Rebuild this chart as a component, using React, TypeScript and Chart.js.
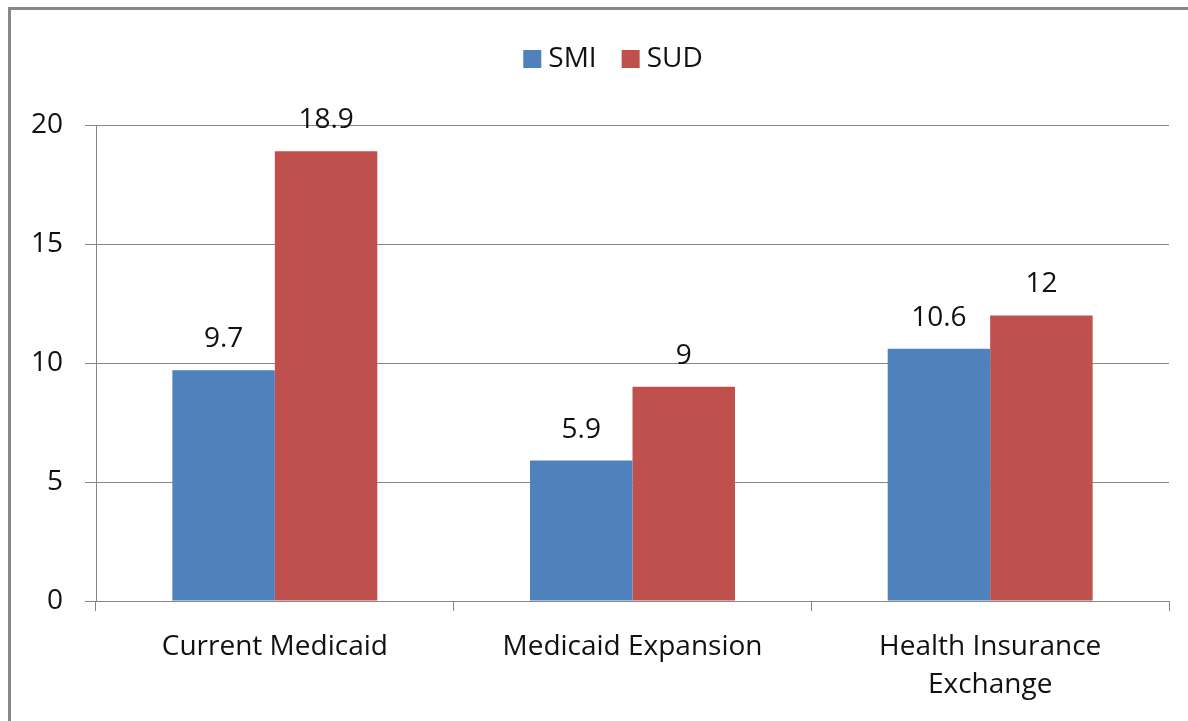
import React, { useEffect, useRef } from "react";
import { Chart, registerables } from "chart.js";

Chart.register(...registerables);

const categories: (string | string[])[] = [
  "Current Medicaid",
  "Medicaid Expansion",
  ["Health Insurance", "Exchange"],
];
const seriesNames = ["SMI", "SUD"];
const smiValues = [9.7, 5.9, 10.6];
const sudValues = [18.9, 9, 12];
const seriesColors = ["#4F81BD", "#C0504D"];
const yTicks = [0, 5, 10, 15, 20];

const FONT = "'Open Sans', Lato, sans-serif";
const FS = 28;

const dataLabelPlugin = {
  id: "dataLabels",
  afterDatasetsDraw(chart: any) {
    const ctx = chart.ctx;
    ctx.save();
    ctx.font = `${FS}px ${FONT}`;
    ctx.fillStyle = "#111";
    ctx.textAlign = "center";
    ctx.textBaseline = "alphabetic";
    chart.data.datasets.forEach((ds: any, di: number) => {
      const meta = chart.getDatasetMeta(di);
      meta.data.forEach((bar: any, i: number) => {
        ctx.fillText(String(ds.data[i]), bar.x, bar.y - 23);
      });
    });
    ctx.restore();
  },
};

const legendPlugin = {
  id: "customLegend",
  afterDraw(chart: any) {
    const ctx = chart.ctx;
    ctx.save();
    ctx.font = `${FS}px ${FONT}`;
    ctx.textBaseline = "alphabetic";
    ctx.textAlign = "left";
    const box = 18;
    const gap = 7;
    const itemGap = 25;
    const items = chart.data.datasets.map((ds: any) => ({
      label: ds.label,
      color: ds.backgroundColor,
      w: box + gap + ctx.measureText(ds.label).width,
    }));
    const total =
      items.reduce((s: number, it: any) => s + it.w, 0) + itemGap * (items.length - 1);
    let x = 613 - total / 2;
    const baseline = 67;
    items.forEach((it: any) => {
      ctx.fillStyle = it.color;
      ctx.fillRect(x, 50, box, box);
      ctx.fillStyle = "#111";
      ctx.fillText(it.label, x + box + gap, baseline);
      x += it.w + itemGap;
    });
    ctx.restore();
  },
};

export default function App() {
  const canvasRef = useRef<HTMLCanvasElement | null>(null);

  useEffect(() => {
    if (!canvasRef.current) return;
    const chart = new Chart(canvasRef.current, {
      type: "bar",
      data: {
        labels: categories,
        datasets: [
          {
            label: seriesNames[0],
            data: smiValues,
            backgroundColor: seriesColors[0],
            categoryPercentage: 0.573,
            barPercentage: 1,
          },
          {
            label: seriesNames[1],
            data: sudValues,
            backgroundColor: seriesColors[1],
            categoryPercentage: 0.573,
            barPercentage: 1,
          },
        ],
      },
      options: {
        animation: false,
        responsive: false,
        devicePixelRatio: 1,
        layout: { padding: { top: 125, right: 19, bottom: 0, left: 0 } },
        plugins: {
          legend: { display: false },
          tooltip: { enabled: false },
        },
        scales: {
          x: {
            grid: {
              display: true,
              drawOnChartArea: false,
              drawTicks: true,
              tickLength: 10,
              color: "#878787",
              offset: true,
            },
            border: { display: true, color: "#878787", width: 1 },
            ticks: {
              color: "#111",
              font: { family: FONT, size: FS, lineHeight: 1.35 },
              padding: 17,
              maxRotation: 0,
              autoSkip: false,
            },
            afterFit(scale: any) {
              scale.height = 120;
            },
          },
          y: {
            min: 0,
            max: 20,
            afterBuildTicks(scale: any) {
              scale.ticks = yTicks.map((v) => ({ value: v }));
            },
            grid: {
              color: "#878787",
              drawTicks: true,
              tickLength: 11,
            },
            border: { display: true, color: "#878787", width: 1 },
            ticks: {
              color: "#111",
              font: { family: FONT, size: FS },
              padding: 22,
            },
            afterFit(scale: any) {
              scale.width = 96;
            },
          },
        },
      },
      plugins: [dataLabelPlugin, legendPlugin],
    });
    return () => chart.destroy();
  }, []);

  return (
    <div
      style={{
        position: "fixed",
        left: 0,
        top: 0,
        width: 1188,
        height: 721,
        background: "#fff",
        overflow: "hidden",
      }}
    >
      <canvas ref={canvasRef} width={1188} height={721} style={{ display: "block" }} />
      <div
        style={{
          position: "absolute",
          left: 8,
          top: 7,
          width: 1188 - 8,
          height: 721 - 7,
          borderTop: "3px solid #888",
          borderLeft: "3px solid #888",
          boxSizing: "border-box",
          pointerEvents: "none",
        }}
      />
    </div>
  );
}
